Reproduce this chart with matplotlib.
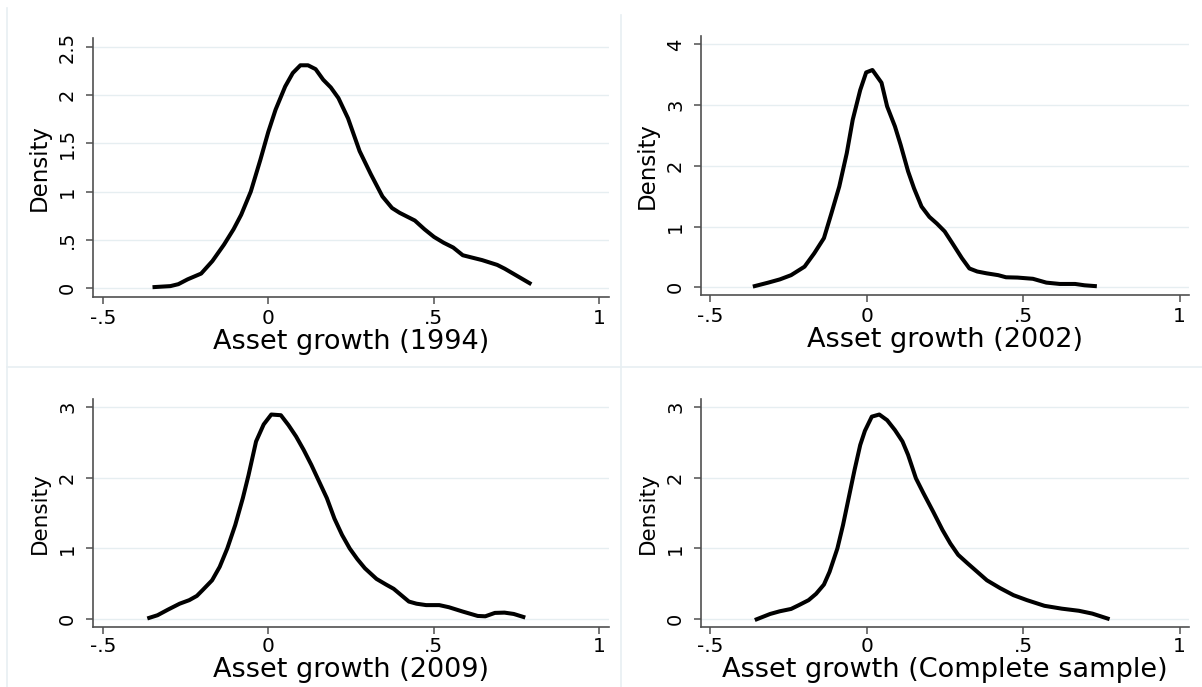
import numpy as np
import matplotlib
matplotlib.use("Agg")
import matplotlib.pyplot as plt
import matplotlib.transforms as mtransforms
from matplotlib.lines import Line2D

# density curves (x = asset growth, y = density)
x_1994 = [-0.344, -0.296, -0.272, -0.244, -0.203, -0.169, -0.134, -0.105, -0.082, -0.053,
          -0.024, 0.0, 0.022, 0.051, 0.074, 0.097, 0.12, 0.143, 0.166, 0.189,
          0.212, 0.241, 0.276, 0.31, 0.345, 0.374, 0.397, 0.443, 0.472, 0.501,
          0.53, 0.559, 0.588, 0.611, 0.646, 0.692, 0.715, 0.75, 0.79]
y_1994 = [0.01, 0.02, 0.04, 0.09, 0.15, 0.28, 0.45, 0.61, 0.76, 1.0,
          1.33, 1.62, 1.85, 2.09, 2.23, 2.31, 2.31, 2.27, 2.16, 2.08,
          1.97, 1.76, 1.42, 1.18, 0.95, 0.83, 0.78, 0.70, 0.61, 0.53,
          0.47, 0.42, 0.34, 0.32, 0.29, 0.24, 0.20, 0.13, 0.05]

x_2002 = [-0.358, -0.315, -0.278, -0.242, -0.199, -0.168, -0.137, -0.113, -0.088, -0.064,
          -0.045, -0.021, -0.002, 0.018, 0.047, 0.065, 0.09, 0.108, 0.132, 0.151,
          0.175, 0.2, 0.224, 0.249, 0.273, 0.304, 0.328, 0.353, 0.383, 0.42,
          0.445, 0.482, 0.531, 0.574, 0.617, 0.666, 0.696, 0.729]
y_2002 = [0.02, 0.077, 0.13, 0.20, 0.34, 0.56, 0.81, 1.22, 1.66, 2.21,
          2.76, 3.25, 3.54, 3.58, 3.37, 2.98, 2.65, 2.35, 1.91, 1.63,
          1.33, 1.16, 1.05, 0.92, 0.73, 0.48, 0.31, 0.26, 0.23, 0.20,
          0.165, 0.16, 0.14, 0.077, 0.055, 0.055, 0.033, 0.02]

x_2009 = [-0.36, -0.335, -0.303, -0.268, -0.239, -0.216, -0.199, -0.17, -0.147, -0.124,
          -0.1, -0.077, -0.06, -0.037, -0.014, 0.009, 0.038, 0.061, 0.084, 0.107,
          0.13, 0.154, 0.177, 0.2, 0.223, 0.246, 0.269, 0.292, 0.327, 0.356,
          0.379, 0.402, 0.425, 0.448, 0.477, 0.517, 0.546, 0.587, 0.633, 0.656,
          0.685, 0.714, 0.742, 0.771]
y_2009 = [0.02, 0.057, 0.137, 0.22, 0.27, 0.33, 0.41, 0.55, 0.74, 1.0,
          1.33, 1.71, 2.03, 2.51, 2.75, 2.89, 2.88, 2.74, 2.58, 2.39,
          2.18, 1.94, 1.71, 1.42, 1.19, 1.0, 0.85, 0.72, 0.57, 0.49,
          0.43, 0.34, 0.25, 0.22, 0.20, 0.20, 0.17, 0.11, 0.047, 0.042,
          0.09, 0.094, 0.075, 0.033]

x_all = [-0.352, -0.309, -0.278, -0.242, -0.217, -0.186, -0.162, -0.137, -0.119, -0.094,
         -0.076, -0.058, -0.039, -0.021, -0.006, 0.016, 0.04, 0.065, 0.09, 0.114,
         0.132, 0.157, 0.181, 0.212, 0.242, 0.267, 0.292, 0.322, 0.353, 0.384,
         0.426, 0.469, 0.512, 0.568, 0.623, 0.678, 0.721, 0.77]
y_all = [0.0, 0.075, 0.113, 0.146, 0.2, 0.27, 0.36, 0.49, 0.67, 1.0,
         1.33, 1.71, 2.11, 2.46, 2.66, 2.86, 2.89, 2.81, 2.67, 2.51,
         2.32, 1.99, 1.78, 1.52, 1.26, 1.07, 0.91, 0.79, 0.67, 0.55,
         0.44, 0.34, 0.27, 0.19, 0.15, 0.12, 0.08, 0.01]

x_ticks = [-0.5, 0, 0.5, 1]
x_ticklabels = ["-.5", "0", ".5", "1"]
yt_1994 = [0, 0.5, 1, 1.5, 2, 2.5]
ytl_1994 = ["0", ".5", "1", "1.5", "2", "2.5"]
yt_2002 = [0, 1, 2, 3, 4]
yt_3 = [0, 1, 2, 3]

titles = ["Asset growth (1994)", "Asset growth (2002)",
          "Asset growth (2009)", "Asset growth (Complete sample)"]

W, H = 1202, 687
fig = plt.figure(figsize=(W / 100, H / 100), dpi=100)
fig.patch.set_facecolor("white")

grid_col = "#e6eef1"
axis_col = "#505050"


def px_axes(left, top, right, bottom):
    return fig.add_axes([left / W, 1 - bottom / H, (right - left) / W, (bottom - top) / H])


def style(ax, xs, ys, yticks, yticklabels, ylim, xlabel, ylab_size, axis_x, base_y, xpad):
    ax.plot(xs, ys, color="black", lw=2.9, solid_joinstyle="round")
    ax.set_xlim(-0.53, 1.03)
    ax.set_ylim(*ylim)
    ax.set_xticks(x_ticks)
    ax.set_xticklabels(x_ticklabels, fontsize=14.5)
    ax.set_yticks(yticks)
    ax.set_yticklabels(yticklabels, fontsize=14, rotation=90, va="center")
    for s in ["top", "right"]:
        ax.spines[s].set_visible(False)
    for s in ["left", "bottom"]:
        ax.spines[s].set_color(axis_col)
        ax.spines[s].set_linewidth(1.2)
    ax.tick_params(length=5, width=1.1, color=axis_col)
    ax.tick_params(axis="x", pad=xpad)
    ax.tick_params(axis="y", pad=6.5)
    ax.yaxis.grid(True, color=grid_col, lw=1.0)
    ax.set_axisbelow(True)
    # axis titles placed at the pixel positions seen in the picture
    ax.set_xlabel(xlabel, fontsize=19.5, va="baseline")
    ax.xaxis.set_label_coords(
        0.5, 1 - base_y / H,
        transform=mtransforms.blended_transform_factory(ax.transAxes, fig.transFigure))
    ax.set_ylabel("Density", fontsize=ylab_size, va="baseline")
    ax.yaxis.set_label_coords(
        (axis_x - 47) / W, 0.5,
        transform=mtransforms.blended_transform_factory(fig.transFigure, ax.transAxes))


ax1 = px_axes(93, 38, 609, 297)
style(ax1, x_1994, y_1994, yt_1994, ytl_1994, (-0.093, 2.593), titles[0], 16.5, 93, 349, 4)

ax2 = px_axes(701, 36, 1189, 295)
style(ax2, x_2002, y_2002, yt_2002, [str(v) for v in yt_2002], (-0.127, 4.14),
      titles[1], 16.5, 701, 347, 4)

ax3 = px_axes(93, 399, 609, 627)
style(ax3, x_2009, y_2009, yt_3, [str(v) for v in yt_3], (-0.109, 3.109),
      titles[2], 15.5, 93, 677, 2.5)

ax4 = px_axes(701, 399, 1189, 627)
style(ax4, x_all, y_all, yt_3, [str(v) for v in yt_3], (-0.109, 3.109),
      titles[3], 15.5, 701, 677, 2.5)

# faint borders between the combined graphs
sep = "#e8eff2"
fig.add_artist(Line2D([7 / W, 7 / W], [0, 1 - 8 / H], color=sep, lw=1.2))
fig.add_artist(Line2D([621 / W, 621 / W], [0, 1 - 15 / H], color=sep, lw=1.2))
fig.add_artist(Line2D([7 / W, 1], [1 - 367 / H, 1 - 367 / H], color=sep, lw=1.2))

fig.savefig("out.png", dpi=100, facecolor="white")
